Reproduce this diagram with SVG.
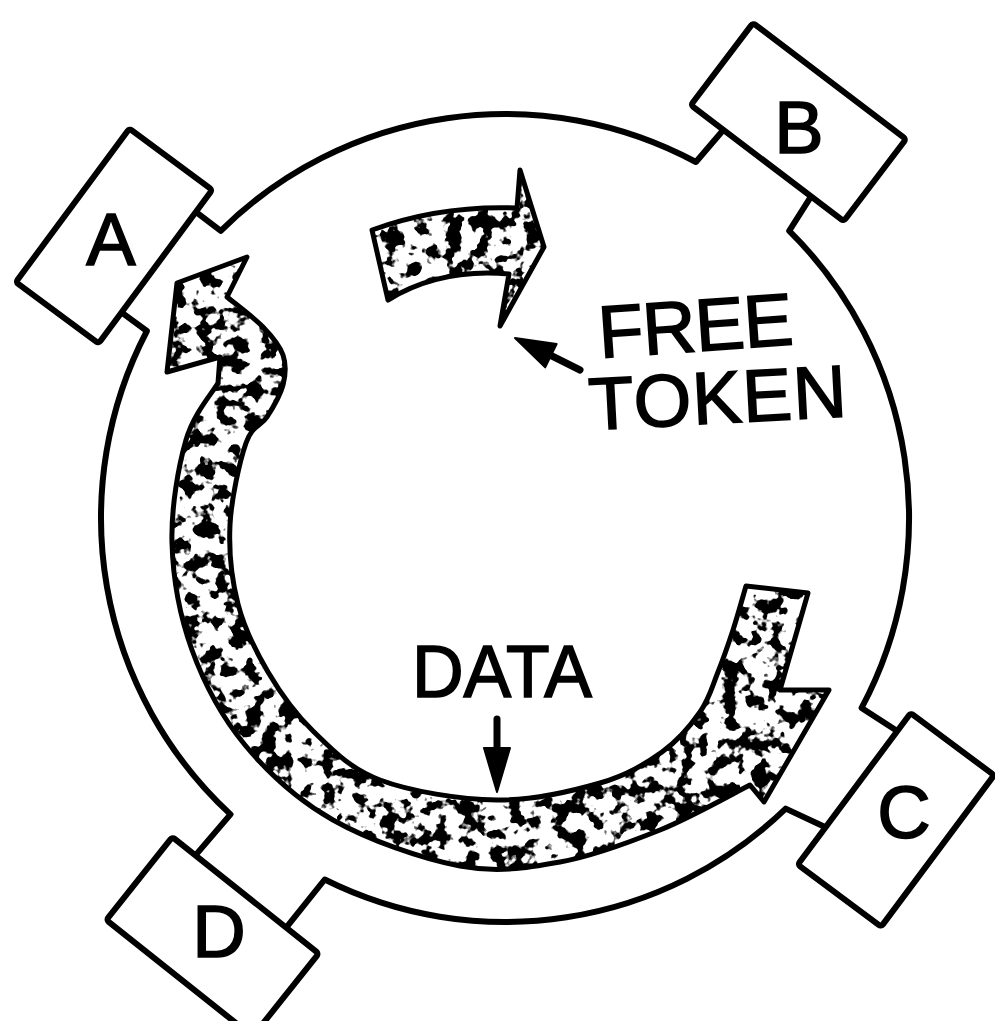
<svg xmlns="http://www.w3.org/2000/svg" xmlns:xlink="http://www.w3.org/1999/xlink" width="995" height="1021" viewBox="0 0 995 1021">
<style>
.box{fill:#fff;stroke:#000;stroke-width:6;stroke-linejoin:round}
.ring{fill:none;stroke:#000;stroke-width:6;stroke-linejoin:round;stroke-linecap:round}
.lbl{font-family:"Liberation Sans",Arial,sans-serif;font-size:74px;fill:#000;stroke:#000;stroke-width:1.6}
.base{fill:#fff;stroke:none}
.grain{fill:#000;stroke:none}
.edge{fill:none;stroke:#000;stroke-width:5;stroke-linejoin:round}
.ptr{stroke:#000;stroke-width:7;stroke-linecap:round;fill:none}
.head{fill:#000;stroke:#000;stroke-width:2;stroke-linejoin:round}
</style>
<defs>
<filter id="grainF" x="-5%" y="-5%" width="110%" height="110%" color-interpolation-filters="sRGB">
<feTurbulence type="fractalNoise" baseFrequency="0.065" numOctaves="3" seed="11" result="n"/>
<feColorMatrix in="n" type="matrix" values="0 0 0 0 0  0 0 0 0 0  0 0 0 0 0  14 0 0 0 -7.1" result="spots"/>
<feComposite in="spots" in2="SourceAlpha" operator="in"/>
</filter>
<path id="tokenShape" d="M372,230 Q440,205 517,208 L520,170 L544,247 L500,326 L509,274 Q440,268 388,300 Z"/>
<path id="dataShape" d="M750,785 C735,792.5 691.7,817.2 660,830 C628.3,842.8 593.3,856 560,862 C526.7,868 497.8,873 460,866 C422.2,859 368.8,840.2 333,820 C297.2,799.8 268.5,773.3 245,745 C221.5,716.7 204.2,683.7 192,650 C179.8,616.3 173,578 172,543 C171,508 178.3,466.7 186,440 C193.7,413.3 212.7,392.5 218,383 L220,357 L167,372 L177,283 L247,257 L227,297 C233,302 253.7,317.3 263,327 C272.3,336.7 279.7,345.3 283,355 C286.3,364.7 285.7,374.7 283,385 C280.3,395.3 273.2,407.3 267,417 C260.8,426.7 252.2,425 246,443 C239.8,461 231.3,498.2 230,525 C228.7,551.8 231.7,579.5 238,604 C244.3,628.5 255.5,650.8 268,672 C280.5,693.2 294.3,713 313,731 C331.7,749 349.3,768.5 380,780 C410.7,791.5 460.3,799.5 497,800 C533.7,800.5 572.5,791 600,783 C627.5,775 645.3,763.8 662,752 C678.7,740.2 690.7,725.3 700,712 C709.3,698.7 712.5,685.7 718,672 C723.5,658.3 728.3,644.3 733,630 C737.7,615.7 743.8,593.3 746,586 L808,593 L780,690 L829,690 L764,802 Z"/>
</defs>

<g id="connectors">
<path class="ring" d="M195.8,211.9 L220.8,230.8 A404,404 0 0 1 695.9,162 L723.5,129.8"/>
<path class="ring" d="M811.1,196.4 L789.2,230.8 A404,404 0 0 1 861.6,707.9 L897.2,731.1"/>
<path class="ring" d="M825.5,827.3 L785.7,808.6 A404,404 0 0 1 324.7,879.5 L286.2,927.6"/>
<path class="ring" d="M195.4,855.4 L230.5,814.4 A404,404 0 0 1 146.9,331 L121.5,312.4"/>
</g>

<g id="nodeA">
<rect class="box" x="-51.5" y="-95.5" width="103" height="191" rx="3" transform="translate(114,236) rotate(36.5)"/>
<text class="lbl" x="111" y="265" text-anchor="middle">A</text>
</g>
<g id="nodeB">
<rect class="box" x="-96" y="-51.5" width="192" height="103" rx="3" transform="translate(798.4,122.1) rotate(37.2)"/>
<text class="lbl" x="799" y="153" text-anchor="middle">B</text>
</g>
<g id="nodeC">
<rect class="box" x="-52" y="-94.5" width="104" height="189" rx="3" transform="translate(895.9,819.9) rotate(36.7)"/>
<text class="lbl" x="904" y="838" text-anchor="middle">C</text>
</g>
<g id="nodeD">
<rect class="box" x="-93.5" y="-53" width="187" height="106" rx="3" transform="translate(212.5,936.7) rotate(38.5)"/>
<text class="lbl" x="219" y="957" text-anchor="middle">D</text>
</g>

<g id="freeTokenArrow">
<use xlink:href="#tokenShape" class="base"/>
<use xlink:href="#tokenShape" class="grain" filter="url(#grainF)"/>
<use xlink:href="#tokenShape" class="edge"/>
</g>

<g id="dataArrow">
<use xlink:href="#dataShape" class="base"/>
<use xlink:href="#dataShape" class="grain" filter="url(#grainF)"/>
<use xlink:href="#dataShape" class="edge"/>
</g>

<g id="freeTokenLabel">
<text class="lbl" x="600" y="358" textLength="195" transform="rotate(-4 600 358)">FREE</text>
<text class="lbl" x="590" y="430" textLength="258" transform="rotate(-3 590 430)">TOKEN</text>
<line class="ptr" x1="580" y1="370" x2="548" y2="354"/>
<polygon class="head" points="515,338 556.6,344 545.2,367.4"/>
</g>

<g id="dataLabel">
<text class="lbl" x="412" y="697" textLength="180" lengthAdjust="spacingAndGlyphs">DATA</text>
<line class="ptr" x1="497" y1="719" x2="497" y2="752"/>
<polygon class="head" points="484,748 510,748 497,792"/>
</g>
</svg>
